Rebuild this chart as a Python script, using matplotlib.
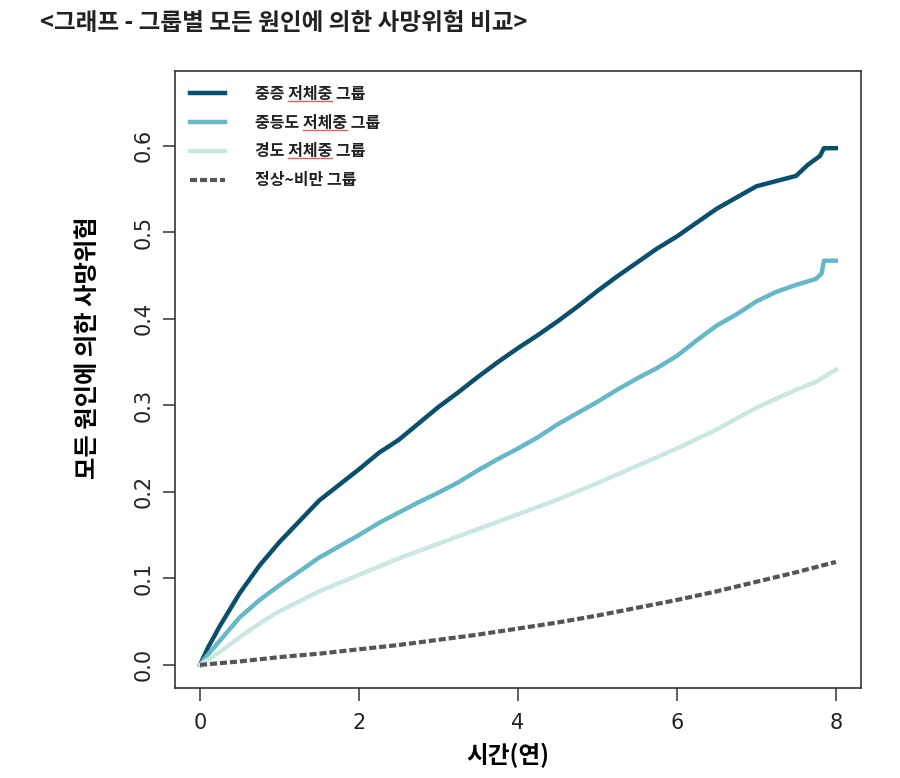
import matplotlib
matplotlib.use("Agg")
import matplotlib.pyplot as plt

plt.rcParams['font.family'] = ['Noto Sans CJK KR', 'DejaVu Sans']

# values (time in years, cumulative risk)
t_severe = [0, 0.1, 0.25, 0.5, 0.75, 1.0, 1.25, 1.5, 1.75, 2.0, 2.25, 2.5, 2.75, 3.0,
            3.25, 3.5, 3.75, 4.0, 4.25, 4.5, 4.75, 5.0, 5.25, 5.5, 5.75, 6.0, 6.25,
            6.5, 6.75, 7.0, 7.25, 7.5, 7.65, 7.8, 7.85, 8.0]
y_severe = [0, 0.02, 0.045, 0.083, 0.115, 0.142, 0.166, 0.19, 0.208, 0.226, 0.245,
            0.26, 0.279, 0.298, 0.315, 0.333, 0.35, 0.366, 0.381, 0.397, 0.414, 0.432,
            0.449, 0.465, 0.481, 0.495, 0.511, 0.527, 0.54, 0.553, 0.559, 0.565,
            0.578, 0.588, 0.597, 0.597]

t_moderate = [0, 0.1, 0.25, 0.5, 0.75, 1.0, 1.25, 1.5, 1.75, 2.0, 2.25, 2.5, 2.75, 3.0,
              3.25, 3.5, 3.75, 4.0, 4.25, 4.5, 4.75, 5.0, 5.25, 5.5, 5.75, 6.0, 6.25,
              6.5, 6.75, 7.0, 7.25, 7.5, 7.75, 7.82, 7.85, 8.0]
y_moderate = [0, 0.012, 0.028, 0.055, 0.075, 0.092, 0.108, 0.124, 0.137, 0.15, 0.164,
              0.176, 0.188, 0.199, 0.211, 0.225, 0.238, 0.25, 0.263, 0.278, 0.291,
              0.304, 0.318, 0.331, 0.343, 0.357, 0.375, 0.392, 0.405, 0.42, 0.431,
              0.439, 0.446, 0.452, 0.467, 0.467]

t_mild = [0, 0.25, 0.5, 0.75, 1.0, 1.5, 2.0, 2.5, 3.0, 3.5, 4.0, 4.5, 5.0, 5.5, 6.0,
          6.5, 7.0, 7.5, 7.75, 8.0]
y_mild = [0, 0.015, 0.032, 0.048, 0.062, 0.085, 0.104, 0.123, 0.14, 0.157, 0.174,
          0.191, 0.21, 0.23, 0.25, 0.272, 0.297, 0.318, 0.327, 0.341]

t_normal = [0, 0.5, 1.0, 1.5, 2.0, 2.5, 3.0, 3.5, 4.0, 4.5, 5.0, 5.5, 6.0, 6.5, 7.0,
            7.5, 8.0]
y_normal = [0, 0.004, 0.009, 0.013, 0.018, 0.023, 0.029, 0.035, 0.042, 0.049, 0.057,
            0.066, 0.075, 0.085, 0.096, 0.107, 0.119]

labels = ['중증 저체중 그룹', '중등도 저체중 그룹', '경도 저체중 그룹', '정상~비만 그룹']
colors = ['#0a4f6e', '#66b8c8', '#cbe7e3', '#555555']

fig = plt.figure(figsize=(9, 7.78), dpi=100)
ax = fig.add_axes([0.194, 0.116, 0.763, 0.793])

ax.plot(t_severe, y_severe, color=colors[0], lw=3.2, label=labels[0])
ax.plot(t_moderate, y_moderate, color=colors[1], lw=3.2, label=labels[1])
ax.plot(t_mild, y_mild, color=colors[2], lw=3.2, label=labels[2])
ax.plot(t_normal, y_normal, color=colors[3], lw=3, ls=(0, (1.7, 0.7)), label=labels[3])

ax.set_xlim(-0.32, 8.32)
ax.set_ylim(-0.0264, 0.6864)
ax.set_xticks([0, 2, 4, 6, 8])
ax.set_yticks([0.0, 0.1, 0.2, 0.3, 0.4, 0.5, 0.6])
ax.set_yticklabels(['0.0', '0.1', '0.2', '0.3', '0.4', '0.5', '0.6'],
                   rotation=90, va='center')
ax.tick_params(direction='out', length=9, width=1.1, colors='#333333',
               labelsize=15, labelcolor='#222222', pad=6)
ax.tick_params(axis='x', pad=9)
for lab in ax.get_xticklabels() + ax.get_yticklabels():
    lab.set_family('DejaVu Sans')
for s in ax.spines.values():
    s.set_color('#333333')
    s.set_linewidth(1.2)

ax.set_xlabel('시간(연)', fontsize=17, fontweight='bold')
ax.xaxis.set_label_coords(0.485, -0.09)
ax.set_ylabel('모든 원인에 의한 사망위험', fontsize=17.5, fontweight='bold')
ax.yaxis.set_label_coords(-0.108, 0.551)

leg = ax.legend(loc='upper left', frameon=False, fontsize=11.5, handlelength=2.2,
                handletextpad=1.9, labelspacing=0.8, borderaxespad=0.54)
for txt in leg.get_texts():
    txt.set_fontweight('bold')
    txt.set_color('#222222')

fig.text(0.045, 0.97, '<그래프 - 그룹별 모든 원인에 의한 사망위험 비교>',
         fontsize=17, fontweight='bold', va='center', ha='left', color='#222222')

# red spell-check underline under "저체중" in the legend, as in the source image
fig.canvas.draw()
renderer = fig.canvas.get_renderer()
word = '저체중'
for txt in leg.get_texts():
    s = txt.get_text()
    if word not in s:
        continue
    head = s[:s.index(word) + len(word)]
    fp = txt.get_fontproperties()
    t1 = fig.text(0, 0, head, fontproperties=fp)
    t2 = fig.text(0, 0, word, fontproperties=fp)
    w1 = t1.get_window_extent(renderer).width
    w2 = t2.get_window_extent(renderer).width
    t1.remove()
    t2.remove()
    bb = txt.get_window_extent(renderer)
    x0 = (bb.x0 + w1 - w2) / fig.bbox.width
    x1 = (bb.x0 + w1) / fig.bbox.width
    yy = (bb.y0 + 1) / fig.bbox.height
    fig.add_artist(plt.Line2D([x0, x1], [yy, yy], color='#e06060', lw=1.0,
                              transform=fig.transFigure))

fig.savefig('out.png', dpi=100)
